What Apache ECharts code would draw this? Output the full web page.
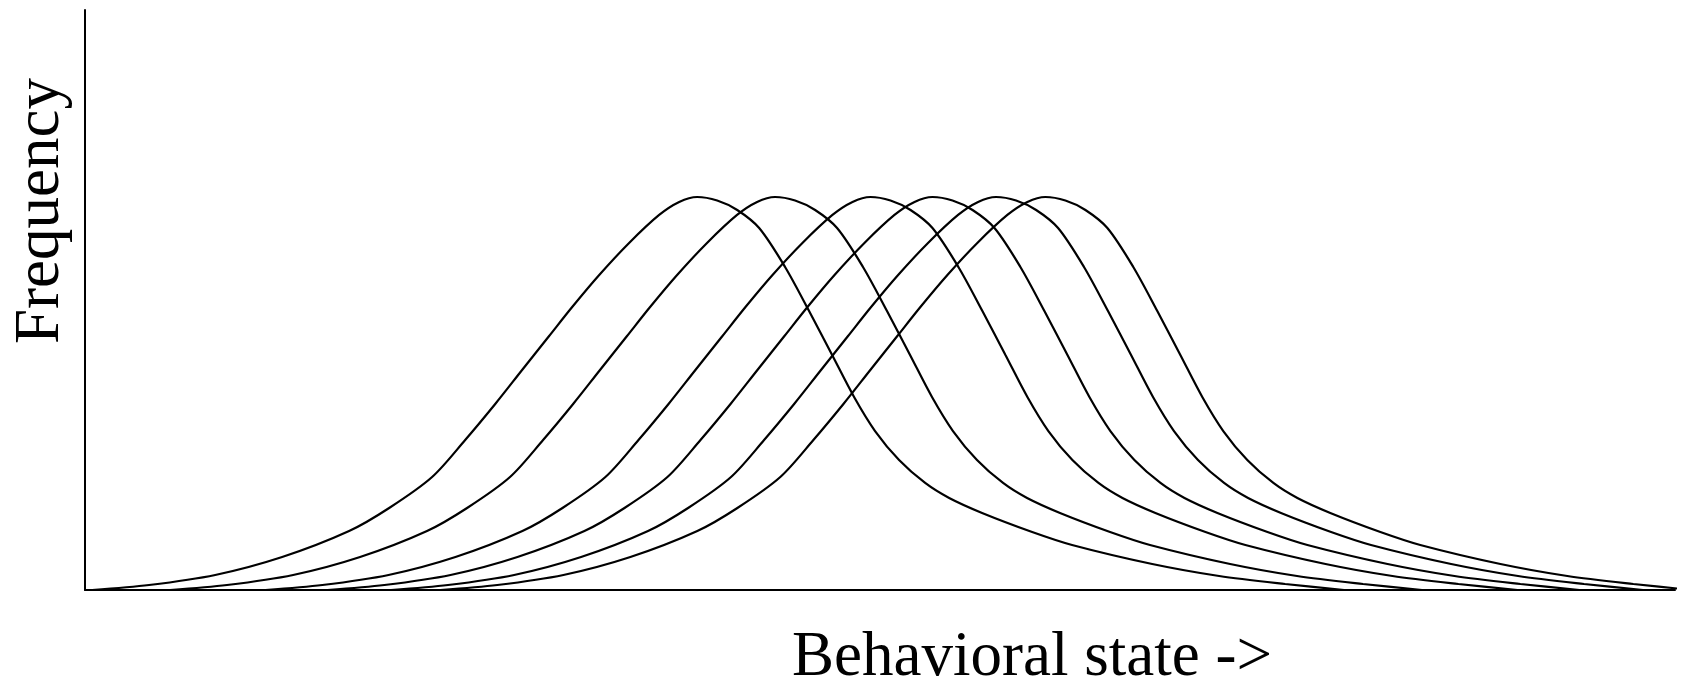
<!DOCTYPE html>
<html>
<head>
<meta charset="utf-8">
<script src="https://cdn.jsdelivr.net/npm/echarts@6/dist/echarts.min.js"></script>
<style>
  html, body { margin: 0; padding: 0; background: #fff; }
  #chart { width: 1695px; height: 684px; }
</style>
</head>
<body>
<div id="chart"></div>
<script>
// peak position of each distribution along the behavioural axis
var peakPositions = [38.5, 43.4, 49.4, 53.3, 57.3, 60.4];

// shared curve shape: offset from the peak, and height
var profileOffsets = [-38.05, -34.47, -30.31, -26.10, -21.89, -19.37, -16.67, -14.59, -12.70, -11.01, -9.31, -7.86, -6.16, -4.28, -2.39, -1.13, 0,
  1.26, 2.52, 3.90, 5.53, 7.04, 8.49, 9.87, 11.19, 12.70, 14.34, 15.85, 17.92, 21.07, 23.58, 28.62, 32.83, 36.98, 40.69];
var profileHeights = [0, 0.86, 2.59, 5.69, 10.17, 14.14, 19.48, 25.86, 32.07, 37.93, 43.79, 48.79, 54.31, 59.83, 64.66, 66.90, 67.76,
  67.15, 65.52, 62.41, 55.69, 48.1, 40.52, 33.28, 27.41, 22.41, 18.45, 15.86, 13.28, 10.0, 7.76, 4.48, 2.41, 1.03, 0];

var xName = 'Behavioral state ->';
var yName = 'Frequency';

var chartInit = function() {
  var $chartEl = document.getElementById('chart');
  var chart = echarts.init($chartEl);

  var series = peakPositions.map(function(peak) {
    return {
      type: 'line',
      data: profileOffsets.map(function(d, i) { return [peak + d, profileHeights[i]]; }),
      showSymbol: false,
      smooth: 0.3,
      clip: false,
      silent: true,
      lineStyle: { color: '#000', width: 2.2 }
    };
  });

  var axisCommon = {
    type: 'value',
    min: 0,
    max: 100,
    axisLine: { show: true, lineStyle: { color: '#000', width: 2 } },
    axisTick: { show: false },
    axisLabel: { show: false },
    splitLine: { show: false },
    nameLocation: 'middle'
  };

  chart.setOption({
    animation: false,
    grid: { left: 85, right: 20, top: 10, bottom: 94, outerBoundsMode: 'none' },
    xAxis: Object.assign({}, axisCommon, {
      name: xName,
      nameGap: 37,
      nameTextStyle: {
        fontFamily: 'Liberation Serif',
        fontSize: 63,
        color: '#000',
        padding: [0, 0, 0, 304]
      }
    }),
    yAxis: Object.assign({}, axisCommon, {
      name: yName,
      nameGap: 12,
      nameTextStyle: {
        fontFamily: 'Liberation Serif',
        fontSize: 63,
        color: '#000',
        padding: [0, 0, 0, 178]
      }
    }),
    series: series
  });
};

chartInit();
</script>
</body>
</html>
